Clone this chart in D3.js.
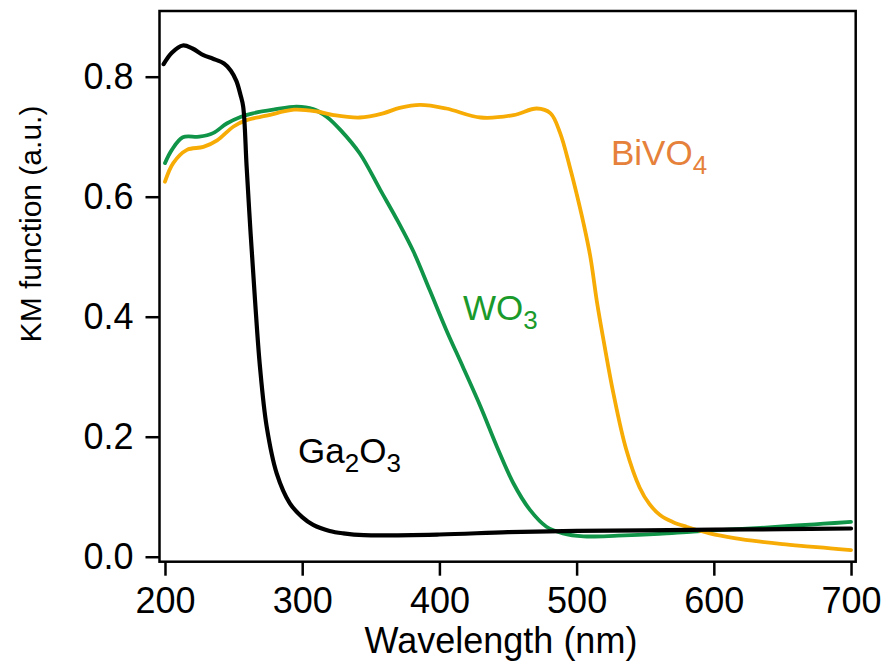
<!DOCTYPE html>
<html>
<head>
<meta charset="utf-8">
<script src="https://cdn.jsdelivr.net/npm/d3@7"></script>
<style>
  html, body { margin: 0; padding: 0; background: #fff; }
  svg { display: block; font-family: "Liberation Sans", Arial, sans-serif; }
</style>
</head>
<body>
<svg id="chart" width="888" height="668"></svg>
<script>
// ---- data ----
const ga2o3Wavelength = [199, 205, 213, 220, 228, 235, 243, 248, 252, 255, 257, 259.5, 262.4, 265.6, 269.2, 274.1, 281.4, 291, 300, 308, 320, 330, 345, 400, 450, 500, 550, 600, 650, 700];
const ga2o3Values     = [0.821, 0.840, 0.852, 0.847, 0.836, 0.830, 0.822, 0.810, 0.793, 0.770, 0.750, 0.650, 0.539, 0.428, 0.317, 0.217, 0.139, 0.089, 0.066, 0.053, 0.043, 0.039, 0.036, 0.037, 0.041, 0.043, 0.044, 0.045, 0.046, 0.047];

const wo3Wavelength = [200, 205, 213, 225, 235, 245, 255, 264, 279, 296, 308, 318, 328, 342, 357, 370, 381, 393, 405, 417, 430, 442, 454, 466, 478, 490, 505, 530, 560, 585, 610, 634, 660, 680, 700];
const wo3Values     = [0.656, 0.678, 0.699, 0.700, 0.706, 0.722, 0.733, 0.739, 0.745, 0.750, 0.746, 0.733, 0.711, 0.672, 0.611, 0.558, 0.509, 0.444, 0.378, 0.317, 0.250, 0.183, 0.122, 0.078, 0.050, 0.039, 0.034, 0.035, 0.038, 0.042, 0.045, 0.048, 0.052, 0.055, 0.058];

const bivo4Wavelength = [200, 206, 216, 228, 238, 250, 260, 274, 294, 311, 323, 342, 359, 371, 386, 405, 430, 454, 471, 481, 488, 495, 500, 505, 510, 515, 520, 527, 536, 546, 553, 561, 570, 580, 597, 615, 634, 650, 670, 685, 700];
const bivo4Values     = [0.625, 0.656, 0.678, 0.683, 0.694, 0.717, 0.728, 0.735, 0.745, 0.742, 0.736, 0.732, 0.739, 0.748, 0.753, 0.747, 0.732, 0.736, 0.747, 0.739, 0.706, 0.650, 0.605, 0.556, 0.500, 0.422, 0.356, 0.270, 0.180, 0.115, 0.088, 0.069, 0.058, 0.050, 0.039, 0.031, 0.025, 0.021, 0.017, 0.014, 0.011];

const xTicks = [200, 300, 400, 500, 600, 700];
const yTicks = [0.0, 0.2, 0.4, 0.6, 0.8];

// ---- layout ----
const svg = d3.select("#chart");
const frame = { left: 159.5, right: 855.7, top: 11, bottom: 561.7 };

const x = d3.scaleLinear().domain([196, 703.4]).range([frame.left, frame.right]);
const y = d3.scaleLinear().domain([-0.0083, 0.9095]).range([frame.bottom, frame.top]);

const toPts = (xs, ys) => xs.map((d, i) => [d, ys[i]]);
const line = d3.line().x(d => x(d[0])).y(d => y(d[1])).curve(d3.curveCatmullRom.alpha(0.5));

const series = [
  { pts: toPts(wo3Wavelength, wo3Values), color: "#0f9448", w: 3.8 },
  { pts: toPts(bivo4Wavelength, bivo4Values), color: "#f7ab05", w: 3.8 },
  { pts: toPts(ga2o3Wavelength, ga2o3Values), color: "#000000", w: 4.2 }
];

svg.append("defs").append("clipPath").attr("id", "clip")
  .append("rect").attr("x", frame.left).attr("y", frame.top)
  .attr("width", frame.right - frame.left).attr("height", frame.bottom - frame.top);

const g = svg.append("g").attr("clip-path", "url(#clip)");
series.forEach(s => {
  g.append("path").datum(s.pts)
    .attr("d", line).attr("fill", "none")
    .attr("stroke", s.color).attr("stroke-width", s.w)
    .attr("stroke-linejoin", "round").attr("stroke-linecap", "round");
});

// frame
svg.append("rect")
  .attr("x", frame.left).attr("y", frame.top)
  .attr("width", frame.right - frame.left).attr("height", frame.bottom - frame.top)
  .attr("fill", "none").attr("stroke", "#000").attr("stroke-width", 2.5);

// axes
const xAxis = d3.axisBottom(x).tickValues(xTicks).tickSize(14).tickSizeOuter(0).tickPadding(12).tickFormat(d3.format("d"));
const gx = svg.append("g").attr("transform", `translate(0,${frame.bottom})`).call(xAxis);
gx.select(".domain").remove();
gx.selectAll(".tick line").attr("stroke", "#000").attr("stroke-width", 2.5);
gx.selectAll(".tick text").attr("font-size", 36).attr("fill", "#000")
  .attr("font-family", "Liberation Sans, Arial, sans-serif");

const yAxis = d3.axisLeft(y).tickValues(yTicks).tickSize(14).tickSizeOuter(0).tickPadding(12).tickFormat(d3.format(".1f"));
const gy = svg.append("g").attr("transform", `translate(${frame.left},0)`).call(yAxis);
gy.select(".domain").remove();
gy.selectAll(".tick line").attr("stroke", "#000").attr("stroke-width", 2.5);
gy.selectAll(".tick text").attr("font-size", 36).attr("fill", "#000")
  .attr("font-family", "Liberation Sans, Arial, sans-serif");

// axis titles
svg.append("text").attr("x", 501).attr("y", 653).attr("text-anchor", "middle")
  .attr("font-size", 36).attr("fill", "#000").text("Wavelength (nm)");
svg.append("text").attr("transform", "translate(41,224) rotate(-90)").attr("text-anchor", "middle")
  .attr("font-size", 30).attr("fill", "#000").text("KM function (a.u.)");

// series labels
function label(px, py, main1, sub1, main2, sub2, color) {
  const t = svg.append("text").attr("x", px).attr("y", py).attr("fill", color).attr("font-size", 35);
  t.append("tspan").text(main1);
  t.append("tspan").attr("font-size", 26).attr("dy", 9).text(sub1);
  if (main2) {
    t.append("tspan").attr("dy", -9).text(main2);
    t.append("tspan").attr("font-size", 26).attr("dy", 9).text(sub2);
  }
}
label(298, 463, "Ga", "2", "O", "3", "#000000");
label(463, 320, "WO", "3", null, null, "#1a9a2a");
label(611, 165, "BiVO", "4", null, null, "#e5813a");
</script>
</body>
</html>
